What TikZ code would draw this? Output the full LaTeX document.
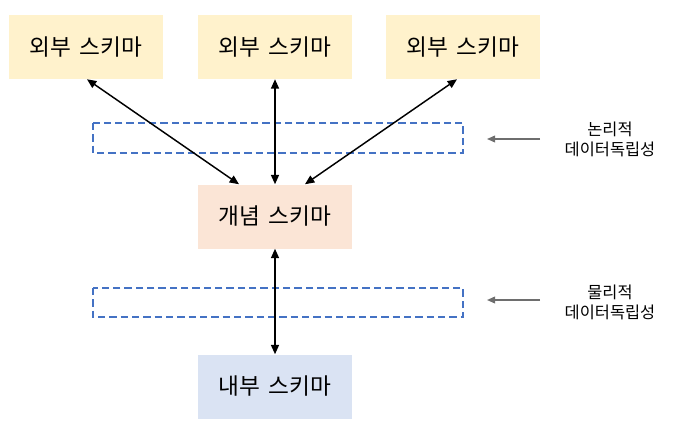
\documentclass[tikz,border=0pt]{standalone}
\usepackage{fontspec}
\setmainfont{Noto Sans CJK KR}
\usetikzlibrary{arrows.meta}
\definecolor{extfill}{HTML}{FFF2CC}
\definecolor{conffill}{HTML}{FBE5D6}
\definecolor{intfill}{HTML}{DAE3F3}
\definecolor{dashblue}{HTML}{4472C4}
\definecolor{sidegray}{HTML}{6E6E6E}
\begin{document}
\begin{tikzpicture}[x=0.75pt,y=-0.75pt,
  schema/.style={minimum width=115.5pt,minimum height=48pt,inner sep=0pt,font=\fontsize{17}{20}\selectfont},
  ext/.style={schema,fill=extfill},
  conc/.style={schema,fill=conffill},
  intl/.style={schema,fill=intfill},
  band/.style={draw=dashblue,line width=1.1pt,dash pattern=on 5.5pt off 3pt},
  arr/.style={line width=1.1pt,{Triangle[length=7pt,width=6pt]}-{Triangle[length=7pt,width=6pt]}},
  garr/.style={draw=sidegray,line width=1.1pt,-{Triangle[length=6pt,width=5pt]}},
  side/.style={align=center,font=\fontsize{12.3}{15}\selectfont,inner sep=0pt}]
\useasboundingbox (0,0) rectangle (684,439);
\node[ext] (b1) at (86,47) {외부\hspace{0.35em}스키마};
\node[ext] (b2) at (275,47) {외부\hspace{0.35em}스키마};
\node[ext] (b3) at (463,47) {외부\hspace{0.35em}스키마};
\node[conc] (c) at (275,216.5) {개념\hspace{0.35em}스키마};
\node[intl] (i) at (275,386.5) {내부\hspace{0.35em}스키마};
\draw[band] (93,123) rectangle (463,153);
\draw[band] (93,288) rectangle (463,317);
\draw[arr] ([xshift=0.75pt]b1.south) -- ([xshift=-27pt]c.north);
\draw[arr] (b2.south) -- (c.north);
\draw[arr] ([xshift=-4.5pt]b3.south) -- ([xshift=22.5pt]c.north);
\draw[arr] (c.south) -- (i.north);
\node[side] (l1) at (610,139.5) {논리적\\데이터독립성};
\node[side] (l2) at (610,302.5) {물리적\\데이터독립성};
\coordinate (a1s) at (540,139);
\coordinate (a1e) at (487,139);
\coordinate (a2s) at (540,300);
\coordinate (a2e) at (487,300);
\draw[garr] (a1s) -- (a1e);
\draw[garr] (a2s) -- (a2e);
\end{tikzpicture}
\end{document}
